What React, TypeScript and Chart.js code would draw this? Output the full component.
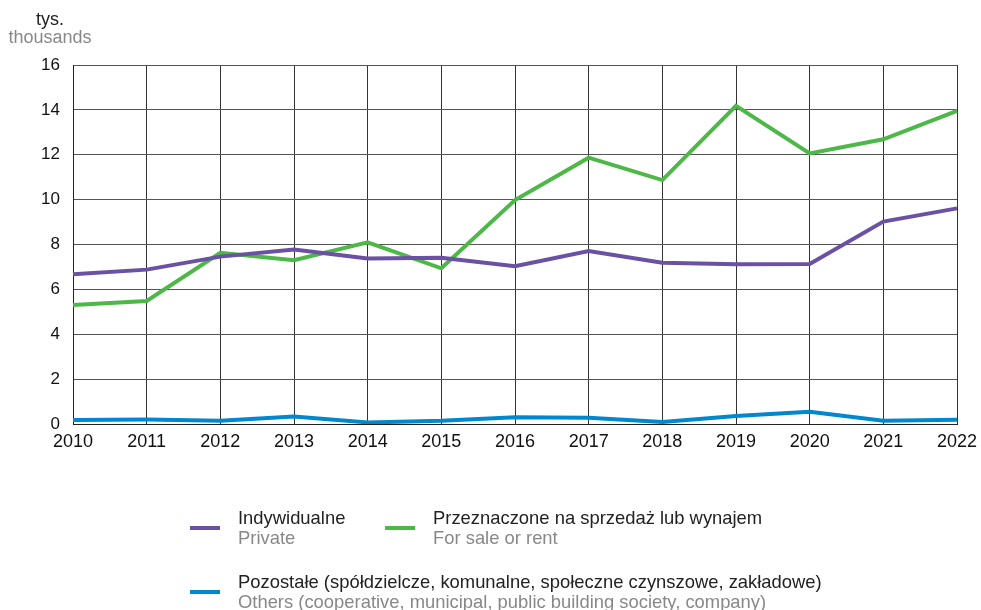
import React, { useEffect, useRef } from "react";
import { Chart, registerables } from "chart.js";

Chart.register(...registerables);

const years = ["2010","2011","2012","2013","2014","2015","2016","2017","2018","2019","2020","2021","2022"];
const privateVals = [6.67, 6.88, 7.46, 7.78, 7.38, 7.41, 7.03, 7.71, 7.19, 7.12, 7.13, 9.02, 9.61];
const saleRentVals = [5.30, 5.48, 7.63, 7.30, 8.10, 6.94, 9.98, 11.87, 10.87, 14.18, 12.06, 12.69, 13.96];
const othersVals = [0.18, 0.20, 0.15, 0.33, 0.07, 0.14, 0.30, 0.28, 0.09, 0.36, 0.55, 0.15, 0.19];
const yTicks = [0, 2, 4, 6, 8, 10, 12, 14, 16];

const PURPLE = "#6a51a3";
const GREEN = "#4db848";
const BLUE = "#0088cf";
const FONT = "'Liberation Sans', Arial, Helvetica, sans-serif";

const overlay = {
  id: "overlay",
  afterDraw(chart: any) {
    const ctx = chart.ctx;
    ctx.save();
    ctx.textBaseline = "middle";
    ctx.font = `18px ${FONT}`;
    ctx.textAlign = "center";
    ctx.fillStyle = "#222";
    ctx.fillText("tys.", 50, 20);
    ctx.fillStyle = "#888";
    ctx.fillText("thousands", 50, 38);
    ctx.textAlign = "left";
    ctx.font = `18.4px ${FONT}`;
    const items = [
      { c: PURPLE, x: 190, y: 528, pl: "Indywidualne", en: "Private" },
      { c: GREEN, x: 385, y: 528, pl: "Przeznaczone na sprzedaż lub wynajem", en: "For sale or rent" },
      { c: BLUE, x: 190, y: 592, pl: "Pozostałe (spółdzielcze, komunalne, społeczne czynszowe, zakładowe)", en: "Others (cooperative, municipal, public building society, company)" },
    ];
    for (const it of items) {
      ctx.strokeStyle = it.c;
      ctx.lineWidth = 4;
      ctx.beginPath();
      ctx.moveTo(it.x, it.y);
      ctx.lineTo(it.x + 30, it.y);
      ctx.stroke();
      ctx.fillStyle = "#222";
      ctx.fillText(it.pl, it.x + 48, it.y - 9);
      ctx.fillStyle = "#888";
      ctx.fillText(it.en, it.x + 48, it.y + 11);
    }
    ctx.restore();
  },
};

export default function App() {
  const ref = useRef<HTMLCanvasElement | null>(null);
  useEffect(() => {
    if (!ref.current) return;
    const chart = new Chart(ref.current, {
      type: "line",
      data: {
        labels: years,
        datasets: [
          { label: "Indywidualne", data: privateVals, borderColor: PURPLE, borderWidth: 4, pointRadius: 0, tension: 0 },
          { label: "Przeznaczone na sprzedaż lub wynajem", data: saleRentVals, borderColor: GREEN, borderWidth: 4, pointRadius: 0, tension: 0 },
          { label: "Pozostałe", data: othersVals, borderColor: BLUE, borderWidth: 4, pointRadius: 0, tension: 0 },
        ],
      },
      options: {
        animation: false,
        responsive: false,
        layout: { padding: { left: 0, top: 65, right: 24, bottom: 156 } },
        plugins: { legend: { display: false }, tooltip: { enabled: false } },
        scales: {
          x: {
            offset: false,
            grid: { color: "#333", lineWidth: 1, drawTicks: false },
            border: { color: "#222", width: 1 },
            ticks: { color: "#111", font: { family: FONT, size: 18 }, padding: 7, maxRotation: 0, autoSkip: false },
            afterFit: (s: any) => { s.height = 30; s.paddingRight = 0; s.paddingLeft = 0; },
          },
          y: {
            min: 0,
            max: 16,
            afterBuildTicks: (s: any) => { s.ticks = yTicks.map((v) => ({ value: v })); },
            grid: { color: "#555", lineWidth: 1, drawTicks: false },
            border: { color: "#222", width: 1 },
            ticks: { color: "#111", font: { family: FONT, size: 17 }, padding: 13 },
            afterFit: (s: any) => { s.width = 73; s.paddingTop = 0; s.paddingBottom = 0; },
          },
        },
      },
      plugins: [overlay],
    });
    return () => chart.destroy();
  }, []);
  return (
    <div style={{ position: "absolute", left: 0, top: 0, width: 981, height: 610, background: "#fff" }}>
      <canvas ref={ref} width={981} height={610} style={{ width: 981, height: 610, display: "block" }} />
    </div>
  );
}
